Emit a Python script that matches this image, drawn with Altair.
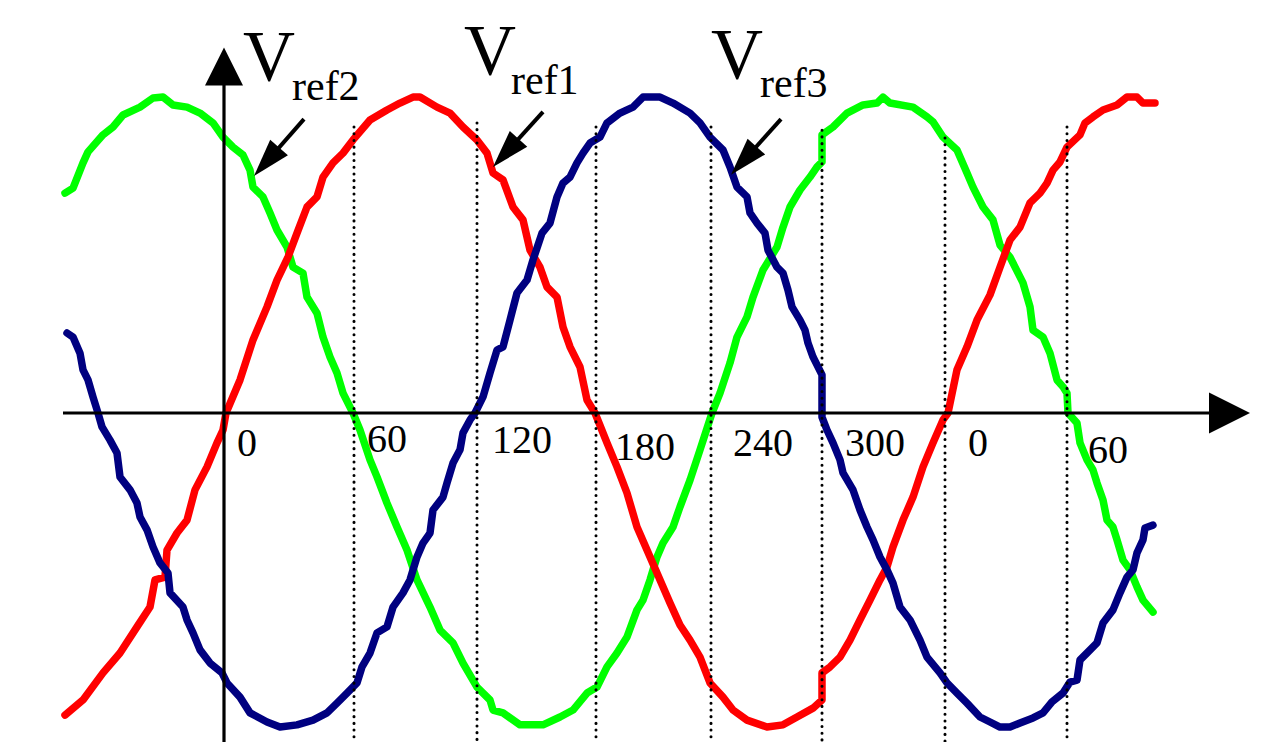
import math
import altair as alt
import pandas as pd

# ---- data: x in degrees, y in % of peak amplitude ----
red_points = [(-80.5, -95.9), (-71.5, -91.1), (-61.5, -82.5), (-53, -76.2), (-44.5, -67.9), (-38, -61.6),
              (-35.5, -53.0), (-30.5, -52.1), (-29.5, -43.5), (-24.5, -38.1), (-19.5, -34.0), (-15.5, -24.4),
              (-9.5, -17.1), (-4.5, -9.5), (-1.5, -5.4), (0, 0), (7, 10.5), (13.5, 23.2), (20.5, 33.7),
              (25.5, 42.2), (31, 49.5), (35.5, 57.1), (40.5, 65.4), (45.5, 68.6), (48.5, 74.9), (53.5, 79.4),
              (58.5, 82.5), (63.5, 86.7), (72, 93.0), (80.5, 96.2), (87, 98.4), (93.5, 100.3), (97, 100.3),
              (105.5, 97.1), (112, 95.2), (118.5, 90.8), (125.5, 86.7), (130.5, 82.5), (133.5, 76.2),
              (138.5, 74.0), (143.5, 65.4), (148.5, 61.3), (152, 51.7), (157, 46.3), (160.5, 40.0),
              (165.5, 36.8), (168.5, 27.3), (172, 21.0), (177, 14.6), (180.5, 4.1), (184.5, 0),
              (190.5, -9.5), (195.5, -17.1), (200.5, -25.4), (205.5, -36.2), (210.5, -43.5), (215.5, -50.8),
              (222, -60.3), (227, -67.3), (232, -72.1), (237, -77.5), (242, -85.7), (248.5, -90.2),
              (253.5, -94.3), (260.5, -97.5), (270.5, -99.7), (278.5, -99.0), (285.5, -96.5), (293.5, -93.7),
              (298, -91.1), (298, -82.5), (302, -80.6), (307, -77.5), (312, -72.1), (317, -65.7),
              (322, -59.4), (327, -53.0), (330.5, -48.9), (333.5, -42.5), (338.5, -34.0), (343.5, -26.7),
              (348.5, -17.1), (353.5, -9.5), (358.5, -2.2), (361, 0), (365.5, 13.7), (370.5, 21.0),
              (375.5, 29.5), (382, 37.5), (387, 46.3), (392, 54.9), (397, 59.0), (402, 66.7), (407, 69.8),
              (410.5, 73.0), (413.5, 77.1), (417, 79.7), (420.5, 84.4), (427, 88.3), (429.5, 92.1),
              (433.5, 94.0), (438.5, 96.2), (445.5, 97.8), (450.5, 100.3), (455.5, 100.3), (458.5, 98.4),
              (464.5, 98.4)]

green_points = [(-80.5, 69.8), (-76.5, 71.4), (-71.5, 79.4), (-69, 82.9), (-61.5, 88.3), (-56.5, 90.8),
                (-51.5, 94.6), (-43, 97.1), (-36.5, 100.0), (-31.5, 100.3), (-26.5, 97.8), (-19.5, 97.1),
                (-13, 95.2), (-6.5, 92.1), (-1.5, 87.6), (3.5, 84.4), (8.5, 81.9), (12, 77.1), (13.5, 71.7),
                (18.5, 68.6), (22, 63.5), (25.5, 58.1), (30.5, 52.7), (33.5, 46.3), (38.5, 44.4),
                (40.5, 36.8), (45.5, 31.7), (48.5, 24.1), (52, 17.8), (55.5, 12.7), (58.5, 6.3), (63.5, 0),
                (67, -5.4), (72, -14.9), (75.5, -20.3), (80.5, -28.6), (85.5, -36.2), (90.5, -43.5),
                (95.5, -53.0), (102, -61.6), (107, -68.9), (113.5, -73.0), (118.5, -79.4), (125.5, -87.0),
                (132, -91.1), (133.5, -94.3), (138.5, -95.2), (147, -99.0), (158.5, -99.0), (167, -96.5),
                (173.5, -94.3), (180.5, -88.9), (185.5, -87.0), (190.5, -80.6), (195.5, -76.2),
                (200.5, -71.1), (205.5, -62.5), (208.5, -59.4), (212, -53.0), (215.5, -45.7), (218.5, -41.3),
                (223.5, -36.2), (227, -29.8), (232, -21.3), (237, -11.7), (243, 0), (247, 6.3), (252, 15.9),
                (255.5, 24.1), (260.5, 30.5), (263.5, 36.8), (268.5, 45.4), (275.5, 52.7), (278.5, 59.0),
                (282, 65.4), (287, 70.8), (292, 74.9), (295.5, 78.1), (298, 79.7), (298, 88.3),
                (303.5, 90.8), (310.5, 95.2), (318.5, 97.8), (325.5, 98.4), (328.5, 100.3), (332, 98.4),
                (343.5, 97.1), (350.5, 94.0), (353.5, 92.4), (358.5, 87.6), (365.5, 83.5), (370.5, 76.2),
                (373.5, 71.7), (378.5, 65.4), (383.5, 61.3), (387, 53.3), (392, 49.5), (397, 43.2),
                (398.5, 41.3), (402, 33.7), (403.5, 26.3), (408.5, 24.1), (412, 19.0), (415.5, 10.5),
                (418.5, 8.3), (420.5, 6.3), (421, 0), (425.5, -3.2), (427, -9.5), (430.5, -14.9),
                (433.5, -18.1), (435.5, -22.2), (438.5, -27.6), (440.5, -34.0), (443.5, -36.2),
                (445.5, -40.3), (448.5, -46.7), (452, -49.8), (455.5, -55.2), (458.5, -59.4), (463.5, -63.2)]

blue_points = [(-79.5, 25.4), (-76.5, 24.1), (-73, 19.0), (-71.5, 13.7), (-69, 10.5), (-66.5, 5.1), (-64, 0),
               (-62, -4.4), (-58, -8.6), (-54.5, -12.7), (-53, -20.3), (-48, -24.4), (-44.5, -28.6),
               (-43, -33.0), (-39.5, -37.1), (-36.5, -42.5), (-33, -47.6), (-29, -50.8), (-28, -57.1),
               (-21.5, -61.6), (-19.5, -65.7), (-16.5, -69.8), (-13, -75.2), (-8, -79.4), (-2, -82.5),
               (0.5, -85.7), (7, -90.2), (12, -95.2), (20.5, -98.1), (27, -99.7), (35.5, -99.0),
               (43.5, -97.5), (50.5, -95.2), (55.5, -92.1), (60.5, -88.9), (65.5, -85.7), (68, -80.6),
               (72, -76.2), (75.5, -69.8), (80.5, -67.9), (83.5, -61.6), (88.5, -57.1), (92, -53.0),
               (95.5, -45.7), (98.5, -41.3), (102, -38.1), (103.5, -30.8), (108.5, -26.7), (110.5, -22.2),
               (113.5, -15.9), (117, -11.7), (118.5, -6.3), (122, -2.2), (124.5, 0), (128.5, 5.1),
               (132, 12.7), (135.5, 20.0), (138.5, 21.0), (142, 29.5), (145.5, 38.1), (150.5, 42.2),
               (153.5, 48.6), (158, 57.1), (162, 60.3), (165.5, 68.6), (168.5, 73.0), (172, 74.9),
               (175.5, 79.4), (178.5, 82.5), (182, 85.7), (187, 87.6), (190.5, 92.1), (197, 95.2),
               (203.5, 97.1), (208.5, 100.3), (217, 100.3), (223.5, 98.4), (232, 95.2), (237, 92.1),
               (242, 87.6), (248.5, 83.5), (252, 78.1), (255.5, 71.7), (260.5, 68.6), (262, 63.5),
               (265.5, 60.3), (269.5, 57.1), (271, 51.7), (275.5, 46.3), (278.5, 44.4), (281, 39.0),
               (283, 33.7), (287, 29.5), (289.5, 26.3), (291, 22.2), (293.5, 17.8), (298, 12.1),
               (298, -1.3), (300.5, -5.4), (303.5, -9.5), (307, -14.9), (308.5, -19.0), (313.5, -24.4),
               (317, -30.8), (320.5, -36.2), (323.5, -40.3), (327, -45.7), (330.5, -49.8), (333.5, -54.0),
               (337, -61.6), (342, -65.7), (347, -72.1), (350.5, -77.5), (357, -82.5), (360.5, -85.7),
               (365.5, -88.9), (370.5, -92.1), (377, -96.5), (382, -98.1), (387, -99.7), (392, -99.7),
               (397, -98.4), (403.5, -96.8), (408.5, -95.2), (413, -91.7), (418.5, -88.9), (422, -85.4),
               (425.5, -84.8), (427, -78.4), (430.5, -76.2), (435.5, -73.0), (438.5, -66.7), (443.5, -62.5),
               (447, -57.1), (450.5, -52.1), (453.5, -49.8), (455.5, -44.4), (458.5, -40.3), (459.5, -36.5),
               (463.5, -35.6)]

# dotted guide lines (x position, top end)
guide_x = [64, 125.5, 185, 242.5, 298, 359.5, 420.5]
guide_top = [90.8, 92.1, 90.8, 90.8, 89.8, 87.3, 90.8]

# angle labels under the axis
tick_text = ["0", "60", "120", "180", "240", "300", "0", "60"]
tick_x = [5.5, 70.5, 133, 194.5, 253.5, 309.5, 371, 431]
tick_y = [-13.7, -12.4, -12.7, -14.9, -13.7, -13.7, -13.7, -15.9]

# series names and annotation positions
ref_sub = ["ref2", "ref1", "ref3"]
ref_v_x = [8.5, 119, 242.5]
ref_v_y = [105.7, 107.6, 106.3]
ref_sub_x = [33, 142.5, 267]
ref_sub_y = [99.4, 101.3, 100.3]
arrow_start_x = [39, 158.5, 277.5]
arrow_start_y = [93.3, 95.6, 93.3]
arrow_tip_x = [14, 133.5, 252.5]
arrow_tip_y = [75.2, 78.1, 75.6]

# ---- layout ----
X_DOMAIN = [-109, 520]
Y_DOMAIN = [-104.444, 128.571]
W, H = 1258, 734
PXX = W / (X_DOMAIN[1] - X_DOMAIN[0])
PXY = H / (Y_DOMAIN[1] - Y_DOMAIN[0])
xs = alt.Scale(domain=X_DOMAIN, nice=False, zero=False)
ys = alt.Scale(domain=Y_DOMAIN, nice=False, zero=False)
SERIF = "'Liberation Serif', 'Times New Roman', Times, 'DejaVu Serif', serif"


def curve(points, color):
    df = pd.DataFrame(points, columns=["x", "y"])
    df["i"] = range(len(df))
    return alt.Chart(df).mark_line(color=color, strokeWidth=7.5, strokeCap="round",
                                   strokeJoin="round").encode(
        x=alt.X("x:Q", scale=xs, axis=None),
        y=alt.Y("y:Q", scale=ys, axis=None),
        order="i:Q")


green = curve(green_points, "#00ff00")
red = curve(red_points, "#ff0000")
blue = curve(blue_points, "#000080")

guides = alt.Chart(pd.DataFrame({"x": guide_x, "top": guide_top, "bot": [Y_DOMAIN[0]] * len(guide_x)})).mark_rule(
    color="black", strokeWidth=3, strokeDash=[0.1, 6.6], strokeCap="round").encode(
    x=alt.X("x:Q", scale=xs, axis=None), y=alt.Y("top:Q", scale=ys, axis=None), y2="bot:Q")

# axes
vaxis = alt.Chart(pd.DataFrame({"x": [-1], "y": [104.4], "y2": [Y_DOMAIN[0]]})).mark_rule(
    color="black", strokeWidth=3.2).encode(
    x=alt.X("x:Q", scale=xs, axis=None), y=alt.Y("y:Q", scale=ys, axis=None), y2="y2:Q")
haxis = alt.Chart(pd.DataFrame({"x": [-81.5], "x2": [492], "y": [0]})).mark_rule(
    color="black", strokeWidth=3.2).encode(
    x=alt.X("x:Q", scale=xs, axis=None), x2="x2:Q", y=alt.Y("y:Q", scale=ys, axis=None))
up_head = alt.Chart(pd.DataFrame({"x": [-1], "y": [110.0]})).mark_point(
    shape="M0,-1L1,1L-1,1Z", filled=True, color="black", opacity=1, size=1444).encode(
    x=alt.X("x:Q", scale=xs, axis=None), y=alt.Y("y:Q", scale=ys, axis=None))
right_head = alt.Chart(pd.DataFrame({"x": [501.75], "y": [0]})).mark_point(
    shape="M1,0L-1,1L-1,-1Z", filled=True, color="black", opacity=1, size=1681).encode(
    x=alt.X("x:Q", scale=xs, axis=None), y=alt.Y("y:Q", scale=ys, axis=None))

# annotation arrows
HEAD_HALF = 19
rows_line, rows_head = [], []
for k in range(3):
    dxp = (arrow_tip_x[k] - arrow_start_x[k]) * PXX
    dyp = -(arrow_tip_y[k] - arrow_start_y[k]) * PXY
    L = math.hypot(dxp, dyp)
    ux, uy = dxp / L, dyp / L
    ang = math.degrees(math.atan2(ux, -uy)) % 360
    cx = arrow_tip_x[k] - HEAD_HALF * ux / PXX
    cy = arrow_tip_y[k] + HEAD_HALF * uy / PXY
    rows_line.append({"id": k, "x": arrow_start_x[k], "y": arrow_start_y[k], "x2": cx, "y2": cy})
    rows_head.append({"x": cx, "y": cy, "a": ang})

arrow_lines = alt.Chart(pd.DataFrame(rows_line)).mark_rule(color="black", strokeWidth=4).encode(
    x=alt.X("x:Q", scale=xs, axis=None), y=alt.Y("y:Q", scale=ys, axis=None), x2="x2:Q", y2="y2:Q")
arrow_heads = alt.Chart(pd.DataFrame(rows_head)).mark_point(
    shape="M0,-1L0.62,1L-0.62,1Z", filled=True, color="black", opacity=1, size=(2 * HEAD_HALF) ** 2).encode(
    x=alt.X("x:Q", scale=xs, axis=None), y=alt.Y("y:Q", scale=ys, axis=None),
    angle=alt.Angle("a:Q", scale=None))

# texts
ticks = alt.Chart(pd.DataFrame({"t": tick_text, "x": tick_x, "y": tick_y})).mark_text(
    font=SERIF, fontSize=40, align="left", baseline="alphabetic", color="black").encode(
    x=alt.X("x:Q", scale=xs, axis=None), y=alt.Y("y:Q", scale=ys, axis=None), text="t:N")
v_big = alt.Chart(pd.DataFrame({"t": ["V"] * 3, "x": ref_v_x, "y": ref_v_y})).mark_text(
    font=SERIF, fontSize=72, align="left", baseline="alphabetic", color="black").encode(
    x=alt.X("x:Q", scale=xs, axis=None), y=alt.Y("y:Q", scale=ys, axis=None), text="t:N")
v_sub = alt.Chart(pd.DataFrame({"t": ref_sub, "x": ref_sub_x, "y": ref_sub_y})).mark_text(
    font=SERIF, fontSize=42, align="left", baseline="alphabetic", color="black").encode(
    x=alt.X("x:Q", scale=xs, axis=None), y=alt.Y("y:Q", scale=ys, axis=None), text="t:N")

chart = alt.layer(
    green, red, blue, guides, vaxis, haxis, up_head, right_head, arrow_lines, arrow_heads, ticks, v_big, v_sub
).properties(
    width=W, height=H, padding=0, background="white",
    autosize=alt.AutoSizeParams(type="none")
).configure_view(stroke=None)

chart.save("out.html", embed_options={"renderer": "svg", "actions": False})
